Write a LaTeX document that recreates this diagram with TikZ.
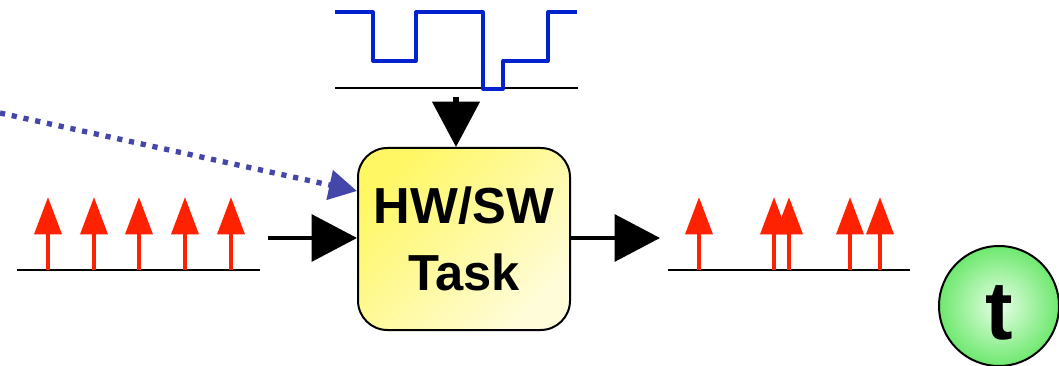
\documentclass[tikz,border=0pt]{standalone}
\usepackage{fontspec}
\setmainfont{Liberation Sans}
\usetikzlibrary{arrows.meta,shapes.geometric}
\definecolor{waveblue}{RGB}{0,34,204}
\definecolor{pulsered}{RGB}{255,34,0}
\definecolor{ctrlblue}{RGB}{68,70,170}
\definecolor{taskhi}{RGB}{255,247,100}
\definecolor{tasklo}{RGB}{255,252,218}
\definecolor{clockin}{RGB}{230,255,230}
\definecolor{clockout}{RGB}{110,232,110}
\tikzset{
  axisline/.style={draw=black, line width=1.3pt},
  wave/.style={draw=waveblue, line width=2.4pt, line join=round},
  flowarrow/.style={draw=black, line width=3pt,
    -{Triangle[length=34pt,width=35pt]}},
  pulse/.style={draw=pulsered, line width=3.4pt,
    -{Triangle[length=28pt,width=20pt]}},
  ctrlarrow/.style={draw=ctrlblue, line width=4pt,
    dash pattern=on 3.9pt off 5.1pt,
    -{Triangle[length=21pt,width=22pt]}},
  taskbox/.style={draw=black, line width=1.5pt, rounded corners=22pt,
    minimum width=159pt, minimum height=136.5pt, inner sep=0pt,
    top color=taskhi, bottom color=tasklo, shading angle=45,
    align=center, font=\bfseries\fontsize{38pt}{50pt}\selectfont},
  clock/.style={circle, draw=black, line width=1.5pt, minimum size=90pt,
    inner color=clockin, outer color=clockout},
  clocktext/.style={inner sep=0pt, font=\bfseries\fontsize{62pt}{62pt}\selectfont}
}
\begin{document}
\begin{tikzpicture}[x=0.75pt, y=-0.75pt]
\useasboundingbox (0,0) rectangle (1059,366);

% processing task
\node[taskbox] (task) at (464,239) {HW/SW\\Task};

% clock symbol in the corner
\node[clock] (clk) at (999,306) {};
\node[clocktext] (clkt) at ([yshift=-5pt]clk.center) {t};

% control signal waveform with its time axis
\coordinate (wa) at (335,88);
\coordinate (wb) at (578,88);
\draw[axisline] (wa) -- (wb);
\draw[wave] (335,12) -- (373,12) -- (373,61) -- (416,61) -- (416,12)
  -- (483,12) -- (483,89) -- (503,89) -- (503,61) -- (548,61)
  -- (548,12) -- (577,12);
\coordinate (ctrl) at (456,97);
\draw[flowarrow, line width=4.2pt] (ctrl) -- (ctrl |- task.north);

% input event stream
\coordinate (ia) at (17,270);
\coordinate (ib) at (260,270);
\draw[axisline] (ia) -- (ib);
\foreach \x [count=\i] in {48,94,139,185,231} {
  \coordinate (in\i) at (\x,270);
  \coordinate (inTip\i) at (\x,197);
  \draw[pulse] (in\i) -- (inTip\i);
}
\coordinate (inFeed) at (268,238);
\draw[flowarrow] (inFeed) -- (task.west |- inFeed);

% output event stream
\coordinate (oa) at (668,270);
\coordinate (ob) at (910,270);
\draw[axisline] (oa) -- (ob);
\foreach \x [count=\i] in {699,774,789,850,880} {
  \coordinate (out\i) at (\x,270);
  \coordinate (outTip\i) at (\x,197);
  \draw[pulse] (out\i) -- (outTip\i);
}
\coordinate (outFeed) at (660,238);
\draw[flowarrow] (task.east |- outFeed) -- (outFeed);

% dotted control input from the left
\coordinate (src) at (0,113);
\draw[ctrlarrow] (src) -- (task.west |- 0,191);
\end{tikzpicture}
\end{document}
